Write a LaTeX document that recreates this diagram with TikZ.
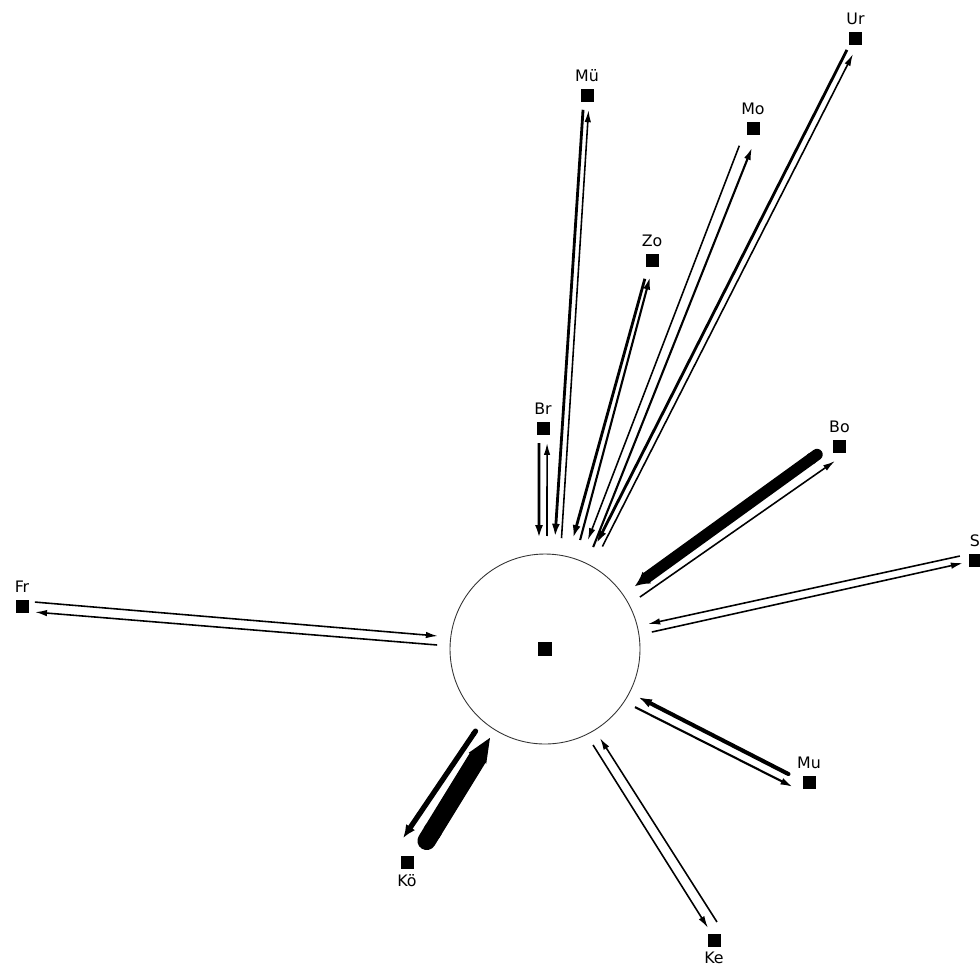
\documentclass[tikz,border=0pt]{standalone}
\usepackage{fontspec}
\setmainfont{DejaVu Sans}
\usetikzlibrary{arrows.meta,calc,positioning}

\begin{document}
\begin{tikzpicture}[x=0.2mm, y=-0.2mm,
    every node/.style={font=\fontsize{9}{10}\selectfont},
    stn/.style={fill=black, minimum size=2.6mm, inner sep=0pt},
    lab/.style={inner sep=0pt},
    hubring/.style={circle, draw=black!80, line width=0.5pt, minimum size=38mm, inner sep=0pt},
    arr/.style={-{Latex[length=2.4mm, width=1.3mm]}, line width=0.9pt},
    arrs/.style={-{Latex[length=2.5mm, width=1.4mm]}, line width=1.2pt},
    arrm/.style={-{Latex[length=2.6mm, width=1.6mm]}, line width=1.6pt},
    arrk/.style={{Round Cap[]}-{Latex[length=2.8mm, width=1.8mm]}, line width=2.3pt},
    arrko/.style={{Round Cap[]}-{Latex[length=2.6mm, width=2.2mm]}, line width=3pt},
    arrb/.style={{Round Cap[]}-{Latex[length=3mm, width=3mm]}, line width=6.5pt},
    arrx/.style={{Round Cap[]}-{Triangle[length=5mm, width=10.5pt]}, line width=10.5pt}
]
\useasboundingbox (0,0) rectangle (980,969);

% centre
\node[hubring] (ring) at (545,649) {};
\node[stn, minimum size=2.8mm] (hub) at (545,649) {};

% stations
\node[stn] (ur) at (855.5,38.5) {};
\node[stn] (mue) at (587,95) {};
\node[stn] (mo) at (753,128.5) {};
\node[stn] (zo) at (652,260) {};
\node[stn] (br) at (543,428) {};
\node[stn] (bo) at (839.5,446) {};
\node[stn] (s) at (975,560) {};
\node[stn] (fr) at (22,606) {};
\node[stn] (mu) at (809,782) {};
\node[stn] (ke) at (714,940) {};
\node[stn] (koe) at (407,862) {};

% labels
\node[lab, above=1.3mm of ur] (ur-t) {Ur};
\node[lab, above=1.3mm of mue] (mue-t) {Mü};
\node[lab, above=1.3mm of mo] (mo-t) {Mo};
\node[lab, above=1.3mm of zo] (zo-t) {Zo};
\node[lab, above=1.3mm of br] (br-t) {Br};
\node[lab, above=1.3mm of bo] (bo-t) {Bo};
\node[lab, above=1.3mm of s] (s-t) {S};
\node[lab, above=1.3mm of fr] (fr-t) {Fr};
\node[lab, above=1.3mm of mu] (mu-t) {Mu};
\node[lab, below=1mm of ke] (ke-t) {Ke};
\node[lab, below=1mm of koe] (koe-t) {Kö};

% ends at the ring
\coordinate (ur-c) at (599.5,545);
\coordinate (mue-c) at (558.5,538);
\coordinate (mo-c) at (591,543);
\coordinate (zo-c) at (576.5,539);
\coordinate (br-c) at (543.5,538);
\coordinate (bo-c) at (637.5,592);
\coordinate (s-c) at (650,628);
\coordinate (fr-c) at (437.5,640.5);
\coordinate (mu-c) at (636.5,702);
\coordinate (ke-c) at (596.5,741.5);
\coordinate (koe-c) at (483,733);

% Ur
\draw[arrm] ($(ur)!2.8mm!(ur-c)!-0.5mm!90:(ur-c)$) -- ($(ur-c)!-0.65mm!-90:(ur)$);
\draw[arr] ($(ur-c)!0.65mm!-90:(ur)$) -- ($(ur)!3mm!(ur-c)!0.95mm!90:(ur-c)$);
% Mue
\draw[arrm] ($(mue)!3mm!(mue-c)!-0.6mm!90:(mue-c)$) -- ($(mue-c)!0.2mm!(mue)!-0.7mm!-90:(mue)$);
\draw[arr] ($(mue-c)!0.6mm!-90:(mue)$) -- ($(mue)!3mm!(mue-c)!0.5mm!90:(mue-c)$);
% Mo
\draw[arr] ($(mo)!4.2mm!(mo-c)!-1.3mm!90:(mo-c)$) -- ($(mo-c)!0.3mm!(mo)!-0.8mm!-90:(mo)$);
\draw[arrs] ($(mo-c)!-0.6mm!(mo)!0.7mm!-90:(mo)$) -- ($(mo)!3.6mm!(mo-c)!1.2mm!90:(mo-c)$);
% Zo
\draw[arrm] ($(zo)!4mm!(zo-c)!-0.4mm!90:(zo-c)$) -- ($(zo-c)!-0.7mm!-90:(zo)$);
\draw[arrs] ($(zo-c)!0.75mm!-90:(zo)$) -- ($(zo)!3.4mm!(zo-c)!0.5mm!90:(zo-c)$);
% Br
\draw[arrm] ($(br)!3mm!(br-c)!-0.8mm!90:(br-c)$) -- ($(br-c)!-0.9mm!-90:(br)$);
\draw[arr] ($(br-c)!0.4mm!(br)!0.7mm!-90:(br)$) -- ($(br)!3mm!(br-c)!0.8mm!90:(br-c)$);
% Bo
\draw[arrb] ($(bo)!3.5mm!(bo-c)!-1.25mm!90:(bo-c)$) -- ($(bo-c)!0.2mm!(bo)!-1.25mm!-90:(bo)$);
\draw[arr] ($(bo-c)!-0.2mm!(bo)!1.1mm!-90:(bo)$) -- ($(bo)!2.5mm!(bo-c)!1.9mm!90:(bo-c)$);
% S
\draw[arr] ($(s)!2.8mm!(s-c)!-1.4mm!90:(s-c)$) -- ($(s-c)!-0.2mm!(s)!-0.86mm!-90:(s)$);
\draw[arr] ($(s-c)!0.2mm!(s)!0.86mm!-90:(s)$) -- ($(s)!2.5mm!(s-c)!0.1mm!90:(s-c)$);
% Fr
\draw[arr] ($(fr)!2.5mm!(fr-c)!1mm!90:(fr-c)$) -- ($(fr-c)!0.9mm!-90:(fr)$);
\draw[arr] ($(fr-c)!-0.9mm!-90:(fr)$) -- ($(fr)!2.7mm!(fr-c)!-1mm!90:(fr-c)$);
% Mu
\draw[arrk] ($(mu)!4mm!(mu-c)!0.3mm!90:(mu-c)$) -- ($(mu-c)!-0.15mm!(mu)!-1.05mm!-90:(mu)$);
\draw[arrs] ($(mu-c)!0.15mm!(mu)!1.05mm!-90:(mu)$) -- ($(mu)!2.5mm!(mu-c)!2.25mm!90:(mu-c)$);
% Ke
\draw[arr] ($(ke)!2.8mm!(ke-c)!-2.35mm!90:(ke-c)$) -- ($(ke-c)!-0.25mm!(ke)!-0.95mm!-90:(ke)$);
\draw[arr] ($(ke-c)!0.25mm!(ke)!0.95mm!-90:(ke)$) -- ($(ke)!2.7mm!(ke-c)!-0.2mm!90:(ke-c)$);
% Koe
\draw[arrx] ($(koe)!3.8mm!(koe-c)!-1.2mm!90:(koe-c)$) -- ($(koe-c)!-0.1mm!(koe)!-1.7mm!-90:(koe)$);
\draw[arrko] ($(koe-c)!-0.1mm!(koe)!1.45mm!-90:(koe)$) -- ($(koe)!3.75mm!(koe-c)!3.1mm!90:(koe-c)$);
\end{tikzpicture}
\end{document}
